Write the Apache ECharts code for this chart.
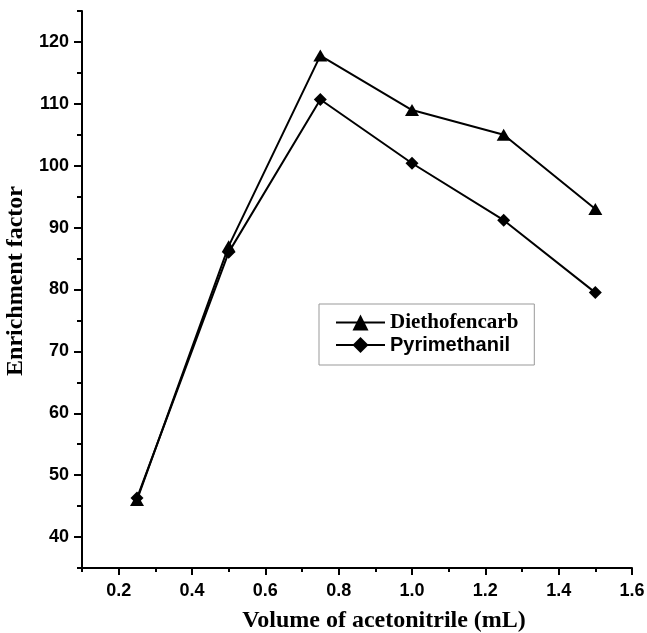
<!DOCTYPE html>
<html>
<head>
<meta charset="utf-8">
<script src="https://cdn.jsdelivr.net/npm/echarts@6/dist/echarts.min.js"></script>
<style>html,body{margin:0;padding:0;background:#fff;}#c{width:647px;height:633px;}</style>
</head>
<body>
<div id="c"></div>
<script>
var xVals = [0.25, 0.5, 0.75, 1.0, 1.25, 1.5];
var diethofencarb = [46.0, 87.0, 117.8, 109.0, 105.0, 93.0];
var pyrimethanil = [46.3, 86.0, 110.7, 100.4, 91.2, 79.5];
var xTicks = [0.2, 0.4, 0.6, 0.8, 1.0, 1.2, 1.4, 1.6];
var yTicks = [40, 50, 60, 70, 80, 90, 100, 110, 120];

function pairs(xs, ys) { return xs.map(function (x, i) { return [x, ys[i]]; }); }

var chart = echarts.init(document.getElementById('c'), null, {renderer: 'canvas'});
var lab = {color: '#000', fontFamily: 'Liberation Sans, Arial, sans-serif', fontWeight: 'bold', fontSize: 18};
chart.setOption({
  animation: false,
  backgroundColor: '#fff',
  grid: {left: 82, right: 15, top: 11, bottom: 65, containLabel: false, outerBoundsMode: 'none'},
  legend: {
    left: 319, top: 304, orient: 'vertical',
    padding: [8, 16, 10, 16],
    itemWidth: 49, itemHeight: 20, itemGap: 2,
    borderColor: '#999', borderWidth: 1, backgroundColor: '#fff',
    data: [
      {name: 'Diethofencarb', textStyle: {fontFamily: 'Liberation Serif, Times New Roman, serif', fontWeight: 'bold', fontSize: 21, color: '#000'}},
      {name: 'Pyrimethanil', textStyle: {fontFamily: 'Liberation Sans, Arial, sans-serif', fontWeight: 'bold', fontSize: 20, color: '#000'}}
    ]
  },
  xAxis: [{
    type: 'value', min: 0.1, max: 1.6, position: 'bottom',
    name: 'Volume of acetonitrile (mL)', nameLocation: 'middle', nameGap: 41,
    nameTextStyle: {fontFamily: 'Liberation Serif, Times New Roman, serif', fontWeight: 'bold', fontSize: 24, color: '#000', padding: [0, 0, 0, 54]},
    axisLine: {show: true, lineStyle: {color: '#000', width: 2}},
    axisTick: {show: true, length: 7, lineStyle: {color: '#000', width: 2}, customValues: xTicks},
    axisLabel: Object.assign({margin: 14, customValues: xTicks, formatter: function (v) { return (+v).toFixed(1); }}, lab),
    splitLine: {show: false}
  }, {
    type: 'value', min: 0.1, max: 1.6, interval: 0.1, position: 'bottom', offset: 0,
    axisLine: {show: false},
    axisTick: {show: true, length: 4, lineStyle: {color: '#000', width: 2}},
    axisLabel: {show: false},
    splitLine: {show: false}
  }],
  yAxis: [{
    type: 'value', min: 35, max: 125, position: 'left',
    name: 'Enrichment factor', nameLocation: 'middle', nameGap: 50,
    nameTextStyle: {fontFamily: 'Liberation Serif, Times New Roman, serif', fontWeight: 'bold', fontSize: 24, color: '#000', padding: [0, 0, 0, 17]},
    axisLine: {show: true, lineStyle: {color: '#000', width: 2}},
    axisTick: {show: true, length: 8, lineStyle: {color: '#000', width: 2}, customValues: yTicks},
    axisLabel: Object.assign({margin: 13, customValues: yTicks}, lab),
    splitLine: {show: false}
  }, {
    type: 'value', min: 35, max: 125, interval: 5, position: 'left', offset: 0,
    axisLine: {show: false},
    axisTick: {show: true, length: 5, lineStyle: {color: '#000', width: 2}},
    axisLabel: {show: false},
    splitLine: {show: false}
  }],
  series: [{
    name: 'Diethofencarb', type: 'line', xAxisIndex: 0, yAxisIndex: 0,
    data: pairs(xVals, diethofencarb),
    symbol: 'triangle', symbolSize: [14, 12],
    lineStyle: {color: '#000', width: 2}, itemStyle: {color: '#000'}
  }, {
    name: 'Pyrimethanil', type: 'line', xAxisIndex: 0, yAxisIndex: 0,
    data: pairs(xVals, pyrimethanil),
    symbol: 'diamond', symbolSize: 13,
    lineStyle: {color: '#000', width: 2}, itemStyle: {color: '#000'}
  }]
});
</script>
</body>
</html>
